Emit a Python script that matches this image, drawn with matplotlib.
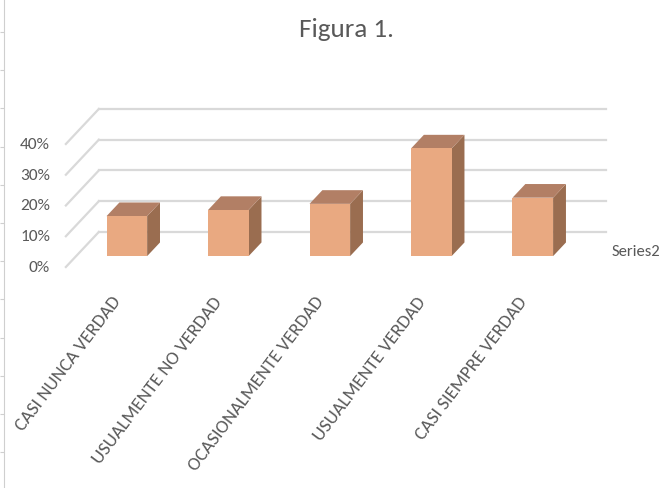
import matplotlib

matplotlib.use("Agg")
import matplotlib.pyplot as plt
import numpy as np
from matplotlib.patches import Polygon

CATEGORIES = [
    "CASI NUNCA VERDAD",
    "USUALMENTE NO VERDAD",
    "OCASIONALMENTE VERDAD",
    "USUALMENTE VERDAD",
    "CASI SIEMPRE VERDAD",
]
VALUES = [0.13, 0.15, 0.17, 0.35, 0.19]
Y_TICKS = [0.0, 0.1, 0.2, 0.3, 0.4]
Y_TICK_LABELS = ["0%", "10%", "20%", "30%", "40%"]
SERIES_NAME = "Series2"
TITLE = "Figura 1."

FRONT = "#e9a981"
TOP = "#b27f65"
SIDE = "#9a6d50"
GRID = "#d9d9d9"
TEXT = "#595959"

# pseudo-3D depth offset (data units per full depth)
DX = 0.325
DY = 0.114
BAR_D0, BAR_D1 = 0.31, 0.70
BAR_W = 0.40

plt.rcParams["font.family"] = ["Carlito", "DejaVu Sans"]

fig = plt.figure(figsize=(6.61, 4.89), dpi=100)
ax = fig.add_axes([0, 0, 1, 1])
ax.set_xlim(-1.149, 5.364)
ax.set_ylim(-0.7187, 0.8715)
ax.axis("off")

x = np.arange(len(CATEGORIES))
x_left, x_right = -0.5, len(CATEGORIES) - 0.5

# walls: back gridlines + diagonals on the side wall
for v in Y_TICKS:
    ax.plot([x_left + DX, x_right + DX], [v + DY, v + DY], color=GRID, lw=1.6, zorder=1)
    ax.plot([x_left, x_left + DX], [v, v + DY], color=GRID, lw=1.6, zorder=1)

# bars: front face via bar(), top and side faces as polygons
ax.bar(x + DX * BAR_D0, VALUES, width=BAR_W, bottom=DY * BAR_D0,
       color=FRONT, zorder=3, linewidth=0)
dd = BAR_D1 - BAR_D0
for xi, v in zip(x, VALUES):
    xl = xi - BAR_W / 2 + DX * BAR_D0
    xr = xi + BAR_W / 2 + DX * BAR_D0
    yb = DY * BAR_D0
    yt = v + DY * BAR_D0
    side = Polygon([(xr, yb), (xr + DX * dd, yb + DY * dd),
                    (xr + DX * dd, yt + DY * dd), (xr, yt)],
                   closed=True, facecolor=SIDE, edgecolor="none", zorder=2)
    top = Polygon([(xl, yt), (xr, yt), (xr + DX * dd, yt + DY * dd),
                   (xl + DX * dd, yt + DY * dd)],
                  closed=True, facecolor=TOP, edgecolor="none", zorder=2)
    ax.add_patch(side)
    ax.add_patch(top)

# value axis labels
for v, lab in zip(Y_TICKS, Y_TICK_LABELS):
    ax.text(-0.656, v, lab, ha="right", va="center", fontsize=12.5, color=TEXT)

# category labels (rotated, ending under each category)
for xi, lab in zip(x, CATEGORIES):
    ax.text(xi + 0.01, -0.10, lab, rotation=53, rotation_mode="anchor",
            ha="right", va="center", fontsize=13.5, color=TEXT)

ax.text(4.88, 0.052, SERIES_NAME, ha="left", va="center", fontsize=12, color=TEXT)

fig.text(346 / 661, 1 - 37 / 489, TITLE, ha="center", va="baseline",
         fontsize=19.5, color=TEXT)

# ruler strip on the left edge
rax = fig.add_axes([0, 0, 4 / 661, 1])
rax.set_xlim(0, 1)
rax.set_ylim(489, 0)
for s in ["top", "bottom", "left"]:
    rax.spines[s].set_visible(False)
rax.spines["right"].set_color("#cfcfcf")
rax.set_xticks([])
rax.yaxis.tick_right()
rax.set_yticks(np.arange(33, 489, 38.2))
rax.tick_params(axis="y", direction="in", length=3, color="#cfcfcf", labelright=False)

fig.savefig("out.png", dpi=100)
